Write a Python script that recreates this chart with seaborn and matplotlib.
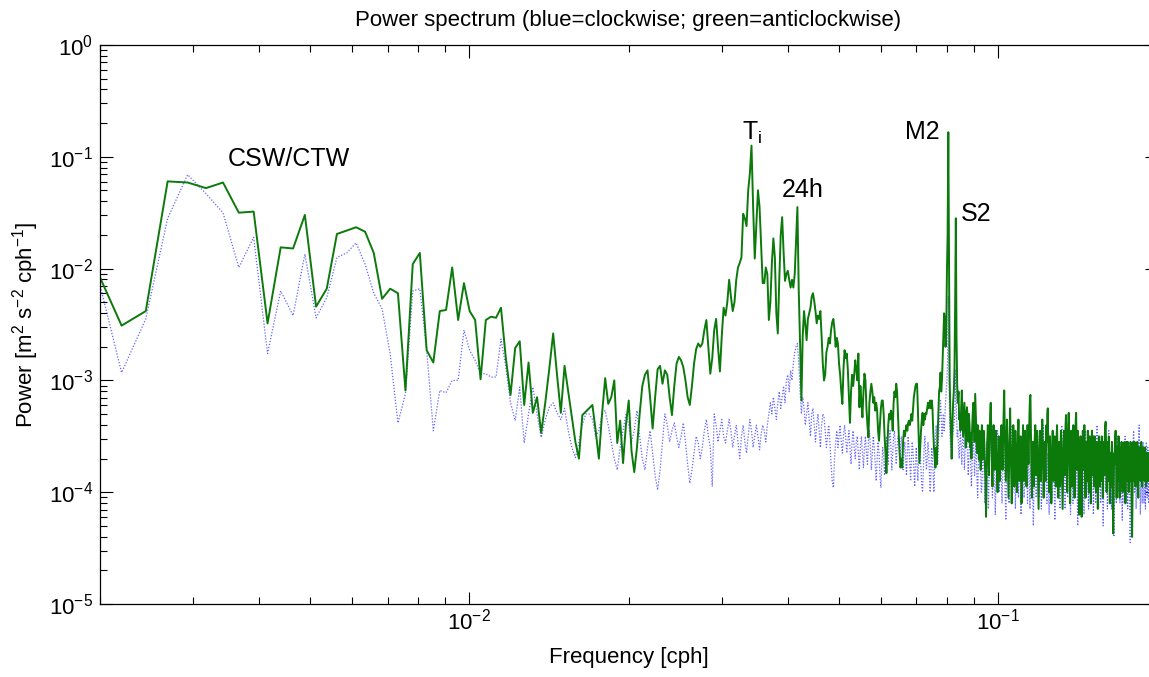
import numpy as np
import pandas as pd
import matplotlib
matplotlib.use("Agg")
import matplotlib.pyplot as plt
import seaborn as sns

# Rotary spectrum of hourly currents: record of 4096 h, first bin plotted k = 8
N_HOURS = 4096
K_FIRST = 8

# log10 power, anticlockwise component (one value per bin, 20 bins per row)
anticlockwise_low = [  # k = 8 .. 87
    -1.97, -2.51, -2.38, -1.22, -1.23, -1.28, -1.23, -1.50, -1.49, -2.49, -1.81, -1.82, -1.52, -2.34, -2.18, -1.69, -1.66, -1.63, -1.67, -1.86,
    -2.27, -2.18, -2.22, -3.09, -1.96, -1.86, -2.73, -2.84, -2.38, -2.37, -1.99, -2.46, -2.13, -2.38, -2.46, -2.99, -2.46, -2.43, -2.44, -2.35,
    -2.80, -3.13, -2.71, -2.65, -3.22, -2.84, -3.29, -3.15, -3.47, -3.20, -2.90, -2.58, -2.95, -3.29, -2.87, -3.10, -3.33, -3.55, -3.70, -3.31,
    -3.28, -3.25, -3.22, -3.45, -3.70, -3.30, -2.98, -3.21, -3.15, -3.00, -3.56, -3.36, -3.74, -3.40, -3.18, -3.63, -3.82, -3.60, -3.30, -3.05,
]
anticlockwise_inertial = [  # k = 88 .. 187
    -2.95, -2.91, -3.15, -3.43, -3.15, -2.90, -2.87, -3.03, -2.91, -2.95, -3.15, -3.31, -3.05, -2.85, -2.79, -2.82, -2.88, -3.00, -3.15, -3.22,
    -3.05, -2.85, -2.72, -2.67, -2.70, -2.67, -2.55, -2.46, -2.70, -2.94, -2.80, -2.55, -2.45, -2.70, -2.92, -2.60, -2.35, -2.42, -2.30, -2.10,
    -2.25, -2.38, -2.30, -2.10, -1.99, -1.95, -1.90, -1.51, -1.55, -1.62, -1.30, -1.15, -0.90, -1.45, -1.91, -1.60, -1.30, -1.45, -1.80, -2.13,
    -2.13, -1.99, -2.05, -2.46, -2.30, -1.95, -1.73, -1.90, -2.40, -2.58, -2.10, -1.70, -1.54, -1.85, -2.11, -2.05, -2.02, -2.10, -2.17, -2.10,
    -2.17, -2.05, -1.75, -1.45, -2.20, -2.67, -3.18, -2.60, -2.38, -2.50, -2.64, -2.45, -2.40, -2.35, -2.25, -2.22, -2.29, -2.38, -2.49, -2.42,
]
anticlockwise_tidal = [  # k = 188 .. 367
    -2.45, -2.38, -2.60, -2.85, -3.00, -2.95, -2.75, -2.70, -2.62, -2.67, -2.55, -2.48, -2.45, -2.55, -2.70, -2.62, -2.67, -2.85, -2.95, -3.10,
    -3.21, -2.90, -2.73, -2.80, -2.76, -2.90, -3.15, -3.38, -3.10, -2.95, -3.05, -2.95, -2.82, -2.90, -3.00, -2.76, -3.24, -3.05, -3.20, -3.33,
    -3.10, -2.94, -3.00, -3.25, -3.40, -3.51, -3.20, -3.10, -3.03, -3.10, -3.20, -3.15, -3.27, -3.20, -3.27, -3.45, -3.54, -3.40, -3.25, -3.18,
    -3.18, -3.30, -3.50, -3.65, -3.83, -3.60, -3.40, -3.30, -3.35, -3.27, -3.30, -3.45, -3.20, -3.10, -3.15, -3.03, -3.10, -3.30, -3.50, -3.65,
    -3.78, -3.70, -3.78, -3.55, -3.45, -3.50, -3.45, -3.40, -3.45, -3.38, -3.36, -3.40, -3.36, -3.30, -3.36, -3.25, -3.15, -3.10, -3.05, -3.03,
    -3.03, -3.25, -3.50, -3.74, -3.60, -3.45, -3.35, -3.29, -3.40, -3.30, -3.35, -3.29, -3.30, -3.25, -3.20, -3.25, -3.20, -3.18, -3.25, -3.18,
    -3.25, -3.45, -3.60, -3.70, -3.78, -3.60, -3.75, -3.50, -3.30, -3.10, -3.06, -2.93, -3.10, -3.00, -2.80, -2.60, -2.40, -2.45, -2.70, -2.60,
    -2.04, -1.70, -0.78, -1.90, -3.00, -3.30, -3.50, -3.70, -3.40, -3.20, -3.10, -2.90, -2.30, -1.55, -2.60, -3.03, -3.20, -3.10, -3.35, -3.30,
    -3.45, -3.25, -3.09, -3.30, -3.50, -3.35, -3.20, -3.40, -3.60, -3.30, -3.24, -3.35, -3.55, -3.30, -3.40, -3.60, -3.47, -3.70, -3.45, -3.30,
]
anticlockwise_high = [  # k = 368 .. 827
    -3.20, -3.35, -3.55, -3.12, -3.30, -3.50, -3.65, -3.40, -3.55, -3.71, -3.45, -3.60, -3.80, -3.55, -3.40, -3.71, -3.60, -3.45, -3.55, -3.75,
    -3.90, -4.22, -3.80, -3.55, -3.40, -3.60, -3.85, -3.50, -3.30, -3.20, -3.45, -3.70, -3.95, -3.60, -3.40, -3.55, -3.80, -3.60, -3.45, -3.70,
    -3.85, -4.00, -3.70, -3.50, -3.65, -3.90, -3.75, -3.55, -3.40, -3.60, -3.80, -3.50, -3.30, -3.09, -3.45, -3.70, -3.90, -3.60, -3.35, -3.55,
    -3.80, -4.05, -3.75, -3.50, -3.25, -3.55, -3.85, -4.10, -3.80, -3.60, -3.40, -3.70, -3.95, -3.65, -3.45, -3.60, -3.85, -4.00, -3.75, -3.50,
    -3.35, -3.60, -3.90, -3.70, -3.50, -3.75, -4.10, -3.85, -3.60, -3.40, -3.65, -3.90, -3.70, -3.45, -3.60, -3.80, -3.95, -3.65, -3.40, -3.55,
    -3.75, -3.50, -3.30, -3.15, -3.13, -3.50, -3.80, -4.05, -3.75, -3.55, -3.70, -3.95, -3.70, -3.50, -3.40, -3.65, -3.85, -3.60, -3.45, -3.70,
    -3.95, -4.15, -3.85, -3.60, -3.45, -3.65, -3.90, -3.70, -3.50, -3.35, -3.60, -3.85, -4.05, -3.75, -3.55, -3.70, -3.90, -3.65, -3.40, -3.55,
    -3.30, -3.25, -3.55, -3.80, -4.00, -3.70, -3.50, -3.65, -3.85, -4.10, -3.80, -3.60, -3.45, -3.70, -3.90, -3.65, -3.50, -3.60, -3.80, -3.95,
    -3.70, -3.50, -3.40, -3.65, -3.85, -4.05, -3.75, -3.55, -3.70, -3.95, -3.65, -3.45, -3.55, -3.75, -3.95, -4.15, -3.85, -3.60, -3.45, -3.65,
    -3.85, -3.60, -3.40, -3.31, -3.55, -3.80, -4.00, -3.70, -3.50, -3.30, -3.29, -3.55, -3.80, -4.10, -3.85, -3.60, -3.45, -3.70, -3.95, -3.70,
    -3.50, -3.40, -3.60, -3.85, -4.05, -3.75, -3.50, -3.35, -3.29, -3.55, -3.80, -3.65, -3.45, -3.60, -3.85, -4.10, -4.20, -3.90, -3.65, -3.50,
    -3.70, -3.95, -4.22, -3.90, -3.65, -3.45, -3.60, -3.80, -3.55, -3.40, -3.60, -3.85, -4.05, -3.75, -3.55, -3.70, -3.90, -3.65, -3.45, -3.60,
    -3.80, -4.00, -3.70, -3.50, -3.65, -3.90, -4.10, -3.80, -3.55, -3.45, -3.65, -3.85, -3.60, -3.50, -3.70, -3.95, -3.70, -3.50, -3.60, -3.80,
    -4.00, -3.75, -3.55, -3.70, -3.90, -4.15, -3.85, -3.60, -3.50, -3.70, -3.95, -3.70, -3.55, -3.75, -3.90, -3.65, -3.50, -3.65, -3.85, -4.05,
    -3.75, -3.55, -3.65, -3.85, -3.60, -3.45, -3.40, -3.37, -3.55, -3.80, -4.00, -3.75, -3.55, -3.70, -3.90, -3.65, -3.50, -3.60, -3.85, -4.10,
    -3.85, -3.65, -3.75, -3.95, -3.70, -3.55, -3.70, -3.95, -4.20, -4.37, -4.05, -3.80, -3.65, -3.75, -3.60, -3.50, -3.45, -3.60, -3.85, -4.05,
    -3.80, -3.60, -3.70, -3.90, -3.65, -3.50, -3.65, -3.85, -4.05, -3.80, -3.60, -3.70, -3.95, -3.75, -3.55, -3.60, -3.80, -4.00, -3.75, -3.60,
    -3.70, -3.85, -3.65, -3.55, -3.65, -3.85, -4.10, -3.85, -3.65, -3.55, -3.70, -3.90, -3.70, -3.55, -3.65, -3.85, -4.00, -3.80, -3.60, -3.70,
    -3.90, -3.70, -3.55, -3.65, -3.85, -4.05, -4.25, -4.40, -4.10, -3.85, -3.65, -3.55, -3.70, -3.90, -3.70, -3.55, -3.65, -3.80, -3.95, -3.75,
    -3.60, -3.70, -3.85, -3.65, -3.55, -3.70, -3.90, -4.05, -3.80, -3.60, -3.70, -3.85, -3.70, -3.60, -3.75, -3.90, -3.70, -3.55, -3.70, -3.85,
    -3.95, -3.75, -3.60, -3.70, -3.85, -3.70, -3.60, -3.75, -3.90, -3.75, -3.60, -3.70, -3.85, -3.95, -3.75, -3.65, -3.75, -3.90, -3.80, -3.65,
    -3.75, -3.90, -3.80, -3.65, -3.75, -3.85, -3.70, -3.60, -3.75, -3.90, -3.75, -3.65, -3.80, -3.90, -3.70, -3.60, -3.75, -3.85, -3.70, -3.65,
    -3.80, -3.90, -3.75, -3.65, -3.80, -3.85, -3.70, -3.65, -3.80, -3.90, -3.75, -3.70, -3.80, -3.85, -3.75, -3.70, -3.80, -3.85, -3.75, -3.70,
]

# log10 power, clockwise component
clockwise_low = [  # k = 8 .. 87
    -1.95, -2.93, -2.45, -1.55, -1.16, -1.33, -1.50, -1.99, -1.72, -2.76, -2.20, -2.42, -1.87, -2.44, -2.26, -1.90, -1.86, -1.77, -1.96, -2.22,
    -2.36, -2.76, -3.38, -3.12, -2.20, -2.18, -2.73, -3.45, -3.09, -3.11, -3.00, -3.00, -2.55, -2.73, -2.82, -2.94, -2.94, -2.97, -2.97, -2.63,
    -2.88, -3.20, -3.36, -3.06, -3.56, -3.30, -3.06, -3.30, -3.51, -3.35, -3.24, -3.20, -3.29, -3.35, -3.25, -3.45, -3.60, -3.69, -3.55, -3.40,
    -3.30, -3.30, -3.35, -3.50, -3.45, -3.30, -3.27, -3.40, -3.55, -3.70, -3.80, -3.60, -3.45, -3.30, -3.40, -3.55, -3.45, -3.27, -3.50, -3.70,
]
clockwise_inertial = [  # k = 88 .. 187
    -3.80, -3.60, -3.45, -3.65, -3.85, -3.98, -3.80, -3.55, -3.30, -3.40, -3.55, -3.45, -3.38, -3.50, -3.60, -3.50, -3.38, -3.55, -3.75, -3.92,
    -3.80, -3.65, -3.50, -3.56, -3.70, -3.60, -3.45, -3.35, -3.50, -3.60, -3.95, -3.30, -3.40, -3.55, -3.45, -3.35, -3.50, -3.56, -3.45, -3.35,
    -3.45, -3.60, -3.50, -3.40, -3.55, -3.70, -3.50, -3.40, -3.55, -3.65, -3.50, -3.35, -3.45, -3.60, -3.50, -3.40, -3.50, -3.62, -3.48, -3.40,
    -3.45, -3.55, -3.40, -3.30, -3.20, -3.30, -3.15, -3.25, -3.35, -3.20, -3.10, -3.25, -3.15, -3.05, -3.20, -3.00, -2.95, -3.10, -2.91, -3.00,
    -2.85, -2.75, -2.70, -2.67, -2.85, -3.10, -3.30, -3.15, -3.25, -3.40, -3.30, -3.20, -3.35, -3.50, -3.30, -3.25, -3.40, -3.55, -3.40, -3.30,
]
clockwise_tidal = [  # k = 188 .. 367
    -3.45, -3.60, -3.40, -3.30, -3.33, -3.45, -3.60, -3.50, -3.40, -3.55, -3.75, -3.90, -3.96, -3.70, -3.55, -3.45, -3.60, -3.50, -3.40, -3.55,
    -3.65, -3.50, -3.40, -3.50, -3.65, -3.55, -3.45, -3.60, -3.75, -3.55, -3.45, -3.60, -3.70, -3.55, -3.50, -3.65, -3.80, -3.60, -3.50, -3.65,
    -3.78, -3.60, -3.50, -3.65, -3.75, -3.55, -3.45, -3.60, -3.80, -3.65, -3.50, -3.60, -3.75, -3.90, -3.70, -3.55, -3.65, -3.85, -3.96, -3.75,
    -3.60, -3.70, -3.85, -3.65, -3.50, -3.60, -3.75, -3.55, -3.45, -3.60, -3.80, -3.65, -3.50, -3.45, -3.60, -3.75, -3.60, -3.50, -3.55, -3.70,
    -3.60, -3.50, -3.65, -3.80, -3.65, -3.55, -3.70, -3.85, -3.65, -3.50, -3.60, -3.75, -3.90, -3.70, -3.55, -3.65, -3.80, -3.95, -3.75, -3.60,
    -3.75, -3.90, -3.70, -3.55, -3.65, -3.80, -3.95, -4.00, -3.80, -3.60, -3.50, -3.65, -3.80, -3.70, -3.55, -3.65, -3.85, -4.00, -3.80, -3.60,
    -3.70, -3.85, -4.00, -3.75, -3.55, -3.40, -3.60, -3.75, -3.55, -3.40, -3.30, -3.18, -3.35, -3.50, -3.40, -3.30, -3.45, -3.35, -3.20, -3.10,
    -3.00, -2.80, -2.25, -2.90, -3.40, -3.55, -3.70, -3.60, -3.50, -3.45, -3.40, -3.35, -3.20, -2.90, -3.30, -3.50, -3.45, -3.60, -3.70, -3.55,
    -3.45, -3.60, -3.75, -3.55, -3.44, -3.60, -3.80, -3.65, -3.50, -3.40, -3.55, -3.70, -3.85, -3.65, -3.50, -3.60, -3.80, -3.95, -3.75, -3.60,
]
clockwise_high = [  # k = 368 .. 827
    -3.50, -3.65, -3.85, -3.70, -3.55, -3.70, -3.90, -4.05, -3.80, -3.60, -3.50, -3.65, -3.85, -4.00, -3.96, -3.75, -3.60, -3.70, -3.90, -4.10,
    -3.85, -3.65, -3.55, -3.70, -3.95, -4.15, -3.90, -3.70, -3.55, -3.45, -3.65, -3.85, -4.05, -3.80, -3.60, -3.75, -3.95, -4.20, -3.95, -3.70,
    -3.55, -3.45, -3.60, -3.80, -4.00, -3.75, -3.60, -3.70, -3.90, -4.10, -3.85, -3.65, -3.50, -3.65, -3.85, -4.05, -4.25, -3.95, -3.70, -3.60,
    -3.75, -3.95, -4.10, -3.85, -3.65, -3.50, -3.40, -3.60, -3.80, -4.00, -3.75, -3.60, -3.70, -3.90, -4.15, -3.90, -3.70, -3.55, -3.65, -3.85,
    -4.05, -3.80, -3.60, -3.75, -3.95, -4.20, -3.95, -3.70, -3.55, -3.65, -3.85, -4.05, -3.85, -3.65, -3.50, -3.45, -3.65, -3.90, -4.10, -3.85,
    -3.65, -3.75, -3.95, -4.15, -3.90, -3.70, -3.55, -3.70, -3.90, -4.10, -4.30, -4.00, -3.75, -3.60, -3.70, -3.90, -4.05, -3.80, -3.60, -3.50,
    -3.65, -3.85, -4.05, -3.80, -3.65, -3.75, -3.95, -4.15, -3.90, -3.70, -3.55, -3.40, -3.60, -3.80, -4.00, -3.75, -3.60, -3.70, -3.90, -4.10,
    -3.85, -3.65, -3.75, -3.95, -4.20, -3.95, -3.70, -3.55, -3.65, -3.85, -4.05, -3.80, -3.60, -3.50, -3.65, -3.85, -4.10, -4.25, -3.95, -3.70,
    -3.60, -3.70, -3.90, -4.05, -3.85, -3.65, -3.55, -3.70, -3.90, -4.15, -3.90, -3.70, -3.50, -3.40, -3.60, -3.80, -4.00, -3.80, -3.65, -3.75,
    -3.95, -4.15, -3.90, -3.70, -3.55, -3.65, -3.85, -4.05, -3.80, -3.60, -3.45, -3.60, -3.80, -4.00, -4.20, -3.95, -3.75, -3.60, -3.70, -3.90,
    -4.10, -3.85, -3.65, -3.50, -3.65, -3.85, -4.05, -3.80, -3.60, -3.70, -3.90, -4.15, -4.30, -4.00, -3.75, -3.60, -3.70, -3.90, -3.75, -3.60,
    -3.50, -3.65, -3.85, -4.05, -3.80, -3.65, -3.75, -3.95, -4.20, -3.95, -3.70, -3.55, -3.45, -3.60, -3.80, -4.00, -3.80, -3.65, -3.75, -3.95,
    -4.15, -3.90, -3.70, -3.55, -3.65, -3.85, -4.05, -3.85, -3.65, -3.50, -3.60, -3.80, -4.00, -4.20, -3.95, -3.75, -3.60, -3.70, -3.90, -4.10,
    -3.85, -3.65, -3.50, -3.40, -3.55, -3.75, -3.95, -4.15, -3.90, -3.70, -3.60, -3.75, -3.95, -4.10, -3.85, -3.65, -3.55, -3.70, -3.90, -4.10,
    -4.30, -4.05, -3.80, -3.60, -3.50, -3.65, -3.85, -4.00, -3.80, -3.60, -3.70, -3.90, -4.15, -3.90, -3.70, -3.55, -3.45, -3.60, -3.80, -4.00,
    -3.80, -3.65, -3.75, -3.95, -4.15, -3.90, -3.70, -3.60, -3.75, -3.95, -4.20, -4.40, -4.10, -3.85, -3.65, -3.55, -3.70, -3.90, -4.10, -3.85,
    -3.65, -3.50, -3.60, -3.80, -4.00, -3.80, -3.60, -3.70, -3.90, -4.10, -3.90, -3.70, -3.55, -3.65, -3.85, -4.05, -4.25, -4.00, -3.75, -3.60,
    -3.70, -3.90, -4.10, -3.85, -3.65, -3.50, -3.65, -3.85, -4.05, -3.80, -3.65, -3.75, -3.95, -4.15, -3.90, -3.70, -3.55, -3.70, -3.90, -4.10,
    -4.30, -4.45, -4.20, -3.95, -3.75, -3.60, -3.70, -3.90, -4.10, -3.85, -3.65, -3.50, -3.45, -3.60, -3.80, -4.00, -3.80, -3.65, -3.75, -3.95,
    -4.15, -3.90, -3.70, -3.55, -3.65, -3.85, -4.05, -3.85, -3.65, -3.45, -3.40, -3.60, -3.80, -4.00, -4.20, -3.95, -3.75, -3.60, -3.70, -3.90,
    -4.10, -3.85, -3.65, -3.55, -3.70, -3.90, -4.10, -3.85, -3.65, -3.75, -3.95, -4.15, -3.90, -3.70, -3.55, -3.65, -3.85, -4.05, -3.80, -3.60,
    -3.70, -3.90, -4.10, -3.85, -3.65, -3.75, -3.95, -3.80, -3.60, -3.70, -3.90, -4.05, -3.80, -3.65, -3.75, -3.90, -3.75, -3.60, -3.70, -3.85,
    -4.00, -3.80, -3.65, -3.75, -3.90, -3.75, -3.60, -3.70, -3.85, -4.00, -3.80, -3.65, -3.75, -3.90, -3.80, -3.65, -3.75, -3.85, -3.75, -3.70,
]

# Peak labels: text, frequency [cph], power
peak_labels = ["CSW/CTW", "T$_\\mathregular{i}$", "24h", "M2", "S2"]
peak_label_freq = [0.00455, 0.0328, 0.0390, 0.0718, 0.0850]
peak_label_power = [0.095, 0.165, 0.050, 0.165, 0.031]
peak_label_align = ["center", "left", "left", "center", "left"]

anticlockwise = np.array(anticlockwise_low + anticlockwise_inertial + anticlockwise_tidal + anticlockwise_high)
clockwise = np.array(clockwise_low + clockwise_inertial + clockwise_tidal + clockwise_high)
assert anticlockwise.size == clockwise.size == 820

freq = np.arange(K_FIRST, K_FIRST + anticlockwise.size) / N_HOURS
spec = pd.concat([
    pd.DataFrame({"freq": freq, "power": 10.0 ** clockwise, "rotation": "clockwise"}),
    pd.DataFrame({"freq": freq, "power": 10.0 ** anticlockwise, "rotation": "anticlockwise"}),
], ignore_index=True)

sns.set_theme(style="ticks")
plt.rcParams["font.family"] = ["Liberation Sans", "DejaVu Sans"]
plt.rcParams["mathtext.fontset"] = "custom"
plt.rcParams["mathtext.rm"] = "Liberation Sans"
plt.rcParams["mathtext.it"] = "Liberation Sans:italic"
plt.rcParams["mathtext.bf"] = "Liberation Sans:bold"
for key in ["text.color", "axes.labelcolor", "xtick.color", "ytick.color", "axes.edgecolor"]:
    plt.rcParams[key] = "black"

fig = plt.figure(figsize=(11.49, 6.77), dpi=100)
ax = fig.add_axes([100 / 1149, 73 / 677, 1057 / 1149, 559 / 677])

sns.lineplot(data=spec[spec.rotation == "clockwise"], x="freq", y="power",
             estimator=None, sort=False, color="#3030ff", lw=0.9,
             linestyle=(0, (1, 1.4)), alpha=0.75, ax=ax)
sns.lineplot(data=spec[spec.rotation == "anticlockwise"], x="freq", y="power",
             estimator=None, sort=False, color="#0b7a0b", lw=1.4, ax=ax)

ax.set_xscale("log")
ax.set_yscale("log")
ax.set_xlim(0.002, 0.2)
ax.set_ylim(1e-5, 1e0)

for side in ["top", "right", "bottom", "left"]:
    ax.spines[side].set_visible(True)
    ax.spines[side].set_color("black")
    ax.spines[side].set_linewidth(0.9)
ax.tick_params(which="both", direction="in", top=True, right=True, color="black", width=0.8)
ax.tick_params(which="major", length=9, labelsize=16, labelcolor="black")
ax.tick_params(axis="x", which="major", pad=3)
ax.tick_params(axis="y", which="major", pad=5)
ax.tick_params(which="minor", length=5)

ax.set_title("Power spectrum (blue=clockwise; green=anticlockwise)", fontsize=16, pad=14, color="black")
ax.set_xlabel("Frequency [cph]", fontsize=16, labelpad=9)
ax.set_ylabel("Power [m$^2$ s$^{-2}$ cph$^{-1}$]", fontsize=16, labelpad=6)

for text, fx, py, ha in zip(peak_labels, peak_label_freq, peak_label_power, peak_label_align):
    ax.text(fx, py, text, fontsize=18, ha=ha, va="center", color="black")

fig.savefig("out.png", dpi=100)
